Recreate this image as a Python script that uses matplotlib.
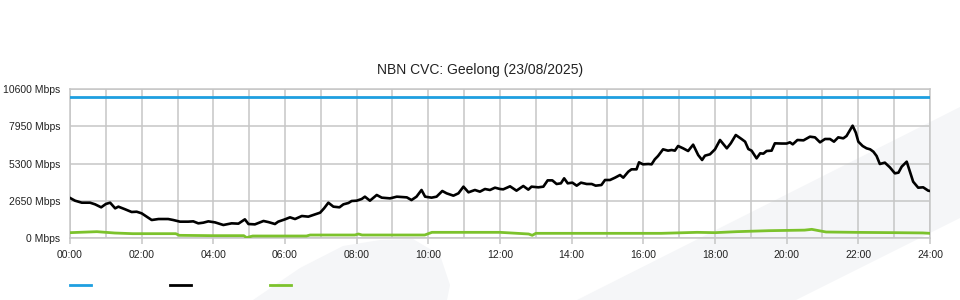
import matplotlib
matplotlib.use("Agg")
import matplotlib.pyplot as plt
from matplotlib.patches import Polygon
from matplotlib.lines import Line2D

plt.rcParams['font.family'] = ['Liberation Sans', 'DejaVu Sans']

title = "NBN CVC: Geelong (23/08/2025)"

# Capacity (blue)
cap_hours = [0, 24]
cap_values = [10000, 10000]

# Utilisation (black) - hours, Mbps
util_hours = [0.0, 0.14, 0.33, 0.56, 0.70, 0.87, 1.00, 1.12, 1.26, 1.35, 1.54, 1.72, 1.86, 2.00,
              2.14, 2.28, 2.47, 2.74, 2.88, 3.07, 3.30, 3.44, 3.58, 3.72, 3.86, 4.05, 4.28, 4.51,
              4.70, 4.88, 4.98, 5.16, 5.40, 5.54, 5.72, 5.81, 6.00, 6.14, 6.28, 6.47, 6.65, 6.79,
              6.98, 7.09, 7.21, 7.35, 7.52, 7.63, 7.77, 7.86, 8.00, 8.14, 8.23, 8.37, 8.56, 8.70,
              8.93, 9.12, 9.40, 9.53, 9.67, 9.81, 9.91, 10.09, 10.23, 10.39, 10.51, 10.70, 10.84,
              10.98, 11.12, 11.30, 11.44, 11.58, 11.72, 11.86, 12.00, 12.09, 12.28, 12.46, 12.65,
              12.79, 12.88, 13.07, 13.21, 13.33, 13.46, 13.58, 13.70, 13.79, 13.89, 14.02, 14.14,
              14.26, 14.42, 14.56, 14.67, 14.83, 14.93, 15.07, 15.21, 15.35, 15.44, 15.58, 15.67,
              15.81, 15.88, 15.99, 16.14, 16.23, 16.32, 16.41, 16.55, 16.69, 16.79, 16.88, 16.97,
              17.11, 17.25, 17.39, 17.53, 17.64, 17.72, 17.86, 18.00, 18.14, 18.33, 18.44, 18.58,
              18.74, 18.84, 18.93, 19.02, 19.16, 19.26, 19.35, 19.44, 19.58, 19.67, 19.86, 20.00,
              20.09, 20.17, 20.30, 20.47, 20.65, 20.79, 20.93, 21.07, 21.21, 21.32, 21.44, 21.58,
              21.67, 21.84, 21.93, 22.00, 22.12, 22.23, 22.33, 22.42, 22.51, 22.60, 22.74, 22.88,
              23.02, 23.12, 23.21, 23.35, 23.44, 23.53, 23.67, 23.81, 23.95, 24.00]
util_values = [2850, 2655, 2512, 2512, 2395, 2183, 2420, 2512, 2110, 2230, 2040, 1850, 1870, 1755,
               1517, 1280, 1350, 1350, 1280, 1162, 1162, 1185, 1043, 1090, 1185, 1110, 925, 1043,
               1020, 1328, 995, 970, 1210, 1130, 995, 1162, 1328, 1470, 1350, 1565, 1518, 1636,
               1802, 2110, 2512, 2230, 2183, 2395, 2490, 2632, 2655, 2774, 2940, 2655, 3060, 2870,
               2820, 2940, 2890, 2700, 2940, 3415, 2940, 2870, 2940, 3344, 3178, 3012, 3178,
               3652, 3250, 3415, 3296, 3486, 3415, 3580, 3486, 3462, 3676, 3368, 3700,
               3440, 3652, 3605, 3652, 4100, 4100, 3842, 3890, 4245, 3890, 3937, 3723,
               3937, 3842, 3842, 3723, 3770, 4126, 4126, 4292, 4482, 4292, 4718, 4885,
               4885, 5384, 5240, 5265, 5240, 5597, 5833, 6308, 6214, 6260, 6214, 6545,
               6380, 6190, 6640, 5905, 5550, 5857, 5955, 6308, 6972, 6380, 6735, 7328,
               7043, 6853, 6330, 6214, 5667, 6023, 6000, 6190, 6214, 6735, 6720, 6720,
               6806, 6664, 6972, 6948, 7208, 7160, 6806, 7043, 7043, 6853, 7161, 7090,
               7256, 7990, 7493, 6853, 6545, 6380, 6308, 6140, 5833, 5265, 5360, 5027,
               4600, 4650, 5075, 5430, 4718, 4006, 3580, 3605, 3368, 3344]

# Third series (green) - hours, Mbps
green_hours = [0.0, 0.75, 1.25, 1.75, 2.95, 3.05, 4.0, 4.85, 4.93, 5.0, 5.1, 6.0, 6.6, 6.7,
               7.95, 8.05, 8.15, 9.9, 10.1, 12.0, 12.8, 12.9, 13.0, 14.5, 16.5, 17.5, 18.0,
               18.6, 19.5, 20.5, 20.7, 20.9, 21.1, 22.0, 23.0, 23.8, 24.0]
green_values = [380, 450, 355, 308, 308, 190, 166, 166, 20, 80, 142, 142, 142, 213,
                213, 285, 213, 213, 403, 403, 285, 190, 332, 332, 332, 403, 380,
                450, 520, 560, 616, 520, 427, 400, 380, 360, 332]

y_ticks = [0, 2650, 5300, 7950, 10600]
x_ticks = list(range(0, 25, 2))
x_labels = [f"{h:02d}:00" for h in x_ticks]
y_labels = [f"{v} Mbps" for v in y_ticks]

W, H = 960, 300
fig = plt.figure(figsize=(W / 100, H / 100), dpi=100)
fig.patch.set_facecolor('white')

def fp(pts):
    return [(x / W, 1 - y / H) for x, y in pts]

wm = '#f5f6f8'
fig.patches.append(Polygon(fp([(577, 300), (960, 107), (960, 218), (796, 300)]),
                           closed=True, transform=fig.transFigure, facecolor=wm,
                           edgecolor='none', zorder=-10))
fig.patches.append(Polygon(fp([(253, 300), (300, 268), (343, 246), (380, 240), (413, 239),
                               (440, 255), (450, 285), (447, 300)]),
                           closed=True, transform=fig.transFigure, facecolor=wm,
                           edgecolor='none', zorder=-10))

ax = fig.add_axes([70 / W, (H - 238) / H, 860 / W, 149 / H])
ax.set_zorder(1)
ax.set_facecolor('none')

ax.plot(cap_hours, cap_values, color='#1e9fe0', lw=2.0, zorder=3)
ax.plot(green_hours, green_values, color='#7cc22c', lw=2.0, zorder=3)
ax.plot(util_hours, util_values, color='#000000', lw=1.9, zorder=4)

ax.set_xlim(0, 24)
ax.set_ylim(0, 10600)
ax.set_xticks(x_ticks)
ax.set_xticklabels(x_labels, fontsize=7.5, color='#222222')
ax.set_xticks(range(0, 25), minor=True)
ax.set_yticks(y_ticks)
ax.set_yticklabels(y_labels, fontsize=7.5, color='#222222')
gc = '#c6c6c6'
ax.grid(True, which='both', color=gc, lw=1.1, zorder=1)
ax.tick_params(axis='x', which='major', length=4, color=gc, width=1.1, pad=5)
ax.tick_params(axis='x', which='minor', length=0)
ax.tick_params(axis='y', length=0, pad=7)
for s in ax.spines.values():
    s.set_color(gc)
    s.set_linewidth(1.1)

fig.text(0.5, 1 - 70 / H, title, ha='center', va='center', fontsize=10, color='#222222')

for x0, col in [(70, '#1e9fe0'), (170, '#000000'), (270, '#7cc22c')]:
    fig.lines.append(Line2D([x0 / W, (x0 + 21) / W], [1 - 285 / H, 1 - 285 / H],
                            transform=fig.transFigure, color=col, lw=2.0))

fig.savefig('out.png', dpi=100)
